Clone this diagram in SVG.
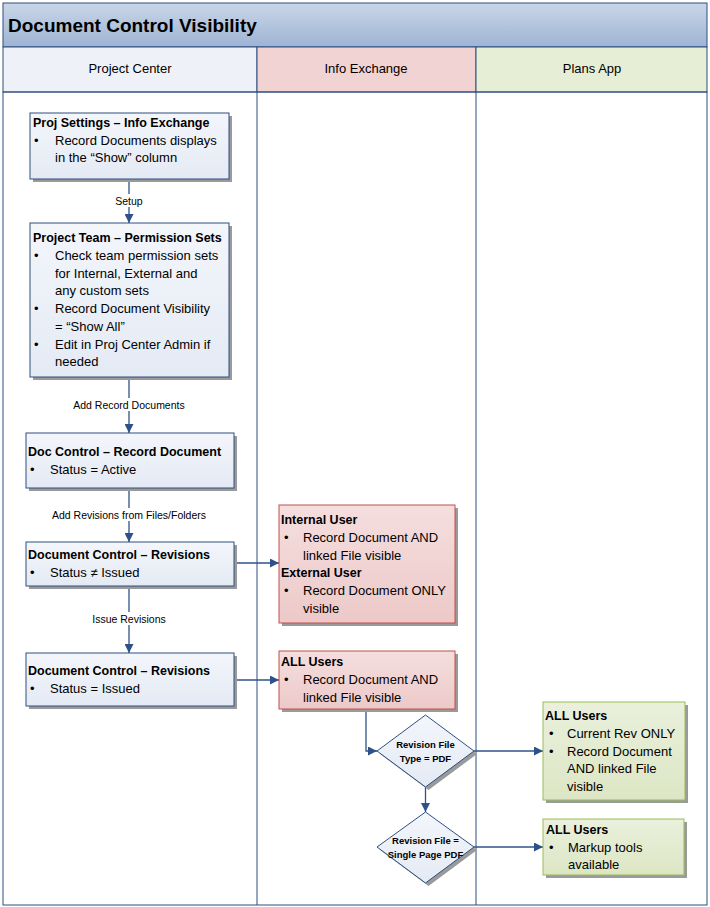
<svg xmlns="http://www.w3.org/2000/svg" width="710" height="907" viewBox="0 0 710 907">
<defs>
<linearGradient id="gTitle" x1="0" y1="0" x2="0" y2="1"><stop offset="0" stop-color="#C9D6E8"/><stop offset="1" stop-color="#9EB4D3"/></linearGradient>
<linearGradient id="gBlue" x1="0" y1="0" x2="0" y2="1"><stop offset="0" stop-color="#F3F6FB"/><stop offset="1" stop-color="#E4EAF4"/></linearGradient>
<linearGradient id="gRed" x1="0" y1="0" x2="0" y2="1"><stop offset="0" stop-color="#F5DEDE"/><stop offset="1" stop-color="#EDC9C9"/></linearGradient>
<linearGradient id="gGreen" x1="0" y1="0" x2="0" y2="1"><stop offset="0" stop-color="#EAF0DC"/><stop offset="1" stop-color="#DCE6C4"/></linearGradient>
<marker id="arr" viewBox="0 0 10 10" refX="10" refY="5" markerWidth="9" markerHeight="9" markerUnits="userSpaceOnUse" orient="auto"><path d="M0,0 L10,5 L0,10 z" fill="#2E5288"/></marker>
</defs>
<style>
text{font-family:"Liberation Sans",Arial,sans-serif;fill:#000}
.t{font-size:12.5px;font-weight:bold}
.b{font-size:13px}
.lbl{font-size:10.5px}
.hd{font-size:13px}
.dt{font-size:9.5px;font-weight:bold}
.bx{fill:url(#gBlue);stroke:#2E4F7F;stroke-width:1}
.rx{fill:url(#gRed);stroke:#C0504D;stroke-width:1}
.gx{fill:url(#gGreen);stroke:#9BBB59;stroke-width:1}
.sh{fill:#9A9A9A}
.ln{fill:none;stroke:#2E5288;stroke-width:1.3}
</style>
<rect x="0" y="0" width="710" height="907" fill="#fff"/>
<g id="frame">
<rect x="3" y="3" width="704" height="44" fill="url(#gTitle)" stroke="#2E4F7F"/>
<text x="8" y="32" style="font-size:19px;font-weight:bold">Document Control Visibility</text>
<rect x="3" y="47" width="254" height="45" fill="#EEF2F8" stroke="#2E4F7F"/>
<rect x="257" y="47" width="219" height="45" fill="#F2D3D3" stroke="#2E4F7F"/>
<rect x="476" y="47" width="231" height="45" fill="#E6EED6" stroke="#2E4F7F"/>
<text class="hd" x="130" y="73" text-anchor="middle">Project Center</text>
<text class="hd" x="366" y="73" text-anchor="middle">Info Exchange</text>
<text class="hd" x="592" y="73" text-anchor="middle">Plans App</text>
<rect x="3" y="92" width="704" height="813" fill="none" stroke="#2E4F7F"/>
<line x1="257" y1="92" x2="257" y2="905" stroke="#2E4F7F"/>
<line x1="476" y1="92" x2="476" y2="905" stroke="#2E4F7F"/>
</g>
<g id="connectors">
<line class="ln" x1="129" y1="179" x2="129" y2="223" marker-end="url(#arr)"/>
<rect x="112" y="194" width="34" height="13" fill="#fff"/>
<text class="lbl" x="129" y="205" text-anchor="middle">Setup</text>
<line class="ln" x1="129" y1="377" x2="129" y2="433" marker-end="url(#arr)"/>
<rect x="68" y="398" width="122" height="13" fill="#fff"/>
<text class="lbl" x="129" y="409" text-anchor="middle">Add Record Documents</text>
<line class="ln" x1="129" y1="488" x2="129" y2="542" marker-end="url(#arr)"/>
<rect x="46" y="508" width="166" height="13" fill="#fff"/>
<text class="lbl" x="129" y="519" text-anchor="middle">Add Revisions from Files/Folders</text>
<line class="ln" x1="129" y1="586" x2="129" y2="653" marker-end="url(#arr)"/>
<rect x="90" y="612" width="78" height="13" fill="#fff"/>
<text class="lbl" x="129" y="623" text-anchor="middle">Issue Revisions</text>
<line class="ln" x1="234" y1="563" x2="279" y2="563" marker-end="url(#arr)"/>
<line class="ln" x1="234" y1="680" x2="279" y2="680" marker-end="url(#arr)"/>
<polyline class="ln" points="366,709 366,751 377,751" marker-end="url(#arr)"/>
<line class="ln" x1="474" y1="751" x2="543" y2="751" marker-end="url(#arr)"/>
<line class="ln" x1="425.5" y1="787" x2="425.5" y2="812" marker-end="url(#arr)"/>
<line class="ln" x1="474" y1="847" x2="543" y2="847" marker-end="url(#arr)"/>
</g>
<g id="n1">
<rect class="sh" x="33" y="116" width="199" height="66"/>
<rect class="bx" x="30" y="113" width="199" height="66"/>
<text class="t" x="33" y="127">Proj Settings – Info Exchange</text>
<text class="b" x="34" y="145">•</text><text class="b" x="55" y="145">Record Documents displays</text>
<text class="b" x="55" y="162">in the “Show” column</text>
</g>
<g id="n2">
<rect class="sh" x="33" y="226" width="199" height="154"/>
<rect class="bx" x="30" y="223" width="199" height="154"/>
<text class="t" x="33" y="242">Project Team – Permission Sets</text>
<text class="b" x="34" y="260">•</text><text class="b" x="55" y="260">Check team permission sets</text>
<text class="b" x="55" y="278">for Internal, External and</text>
<text class="b" x="55" y="295">any custom sets</text>
<text class="b" x="34" y="313">•</text><text class="b" x="55" y="313">Record Document Visibility</text>
<text class="b" x="55" y="331">= “Show All”</text>
<text class="b" x="34" y="349">•</text><text class="b" x="55" y="349">Edit in Proj Center Admin if</text>
<text class="b" x="55" y="366">needed</text>
</g>
<g id="n3">
<rect class="sh" x="29" y="436" width="208" height="55"/>
<rect class="bx" x="26" y="433" width="208" height="55"/>
<text class="t" x="28" y="456">Doc Control – Record Document</text>
<text class="b" x="30" y="474">•</text><text class="b" x="50" y="474">Status = Active</text>
</g>
<g id="n4">
<rect class="sh" x="29" y="545" width="208" height="44"/>
<rect class="bx" x="26" y="542" width="208" height="44"/>
<text class="t" x="28" y="559">Document Control – Revisions</text>
<text class="b" x="30" y="577">•</text><text class="b" x="50" y="577">Status ≠ Issued</text>
</g>
<g id="n5">
<rect class="sh" x="29" y="656" width="208" height="53"/>
<rect class="bx" x="26" y="653" width="208" height="53"/>
<text class="t" x="28" y="675">Document Control – Revisions</text>
<text class="b" x="30" y="693">•</text><text class="b" x="50" y="693">Status = Issued</text>
</g>
<g id="r1">
<rect class="sh" x="282" y="508" width="176" height="118"/>
<rect class="rx" x="279" y="505" width="176" height="118"/>
<text class="t" x="281" y="524">Internal User</text>
<text class="b" x="284" y="542">•</text><text class="b" x="303" y="542">Record Document AND</text>
<text class="b" x="303" y="560">linked File visible</text>
<text class="t" x="281" y="577">External User</text>
<text class="b" x="284" y="595">•</text><text class="b" x="303" y="595">Record Document ONLY</text>
<text class="b" x="303" y="613">visible</text>
</g>
<g id="r2">
<rect class="sh" x="282" y="654" width="176" height="58"/>
<rect class="rx" x="279" y="651" width="176" height="58"/>
<text class="t" x="281" y="666">ALL Users</text>
<text class="b" x="284" y="684">•</text><text class="b" x="303" y="684">Record Document AND</text>
<text class="b" x="303" y="702">linked File visible</text>
</g>
<g id="d1">
<polygon points="428.5,718 477,754 428.5,790 380,754" fill="#9A9A9A"/>
<polygon points="425.5,715 474,751 425.5,787 377,751" fill="url(#gBlue)" stroke="#2E4F7F"/>
<text class="dt" x="425.5" y="748" text-anchor="middle">Revision File</text>
<text class="dt" x="425.5" y="762" text-anchor="middle">Type = PDF</text>
</g>
<g id="d2">
<polygon points="428.5,815 477,850 428.5,886 380,850" fill="#9A9A9A"/>
<polygon points="425.5,812 474,847 425.5,883 377,847" fill="url(#gBlue)" stroke="#2E4F7F"/>
<text class="dt" x="425.5" y="844" text-anchor="middle">Revision File  =</text>
<text class="dt" x="425.5" y="858" text-anchor="middle">Single Page PDF</text>
</g>
<g id="g1">
<rect class="sh" x="546" y="705" width="142" height="98"/>
<rect class="gx" x="543" y="702" width="142" height="98"/>
<text class="t" x="545" y="720">ALL Users</text>
<text class="b" x="549" y="738">•</text><text class="b" x="567" y="738">Current Rev ONLY</text>
<text class="b" x="549" y="756">•</text><text class="b" x="567" y="756">Record Document</text>
<text class="b" x="567" y="773">AND linked File</text>
<text class="b" x="567" y="791">visible</text>
</g>
<g id="g2">
<rect class="sh" x="546" y="822" width="141" height="56"/>
<rect class="gx" x="543" y="819" width="141" height="56"/>
<text class="t" x="546" y="834">ALL Users</text>
<text class="b" x="549" y="852">•</text><text class="b" x="568" y="852">Markup tools</text>
<text class="b" x="568" y="869">available</text>
</g>
</svg>
